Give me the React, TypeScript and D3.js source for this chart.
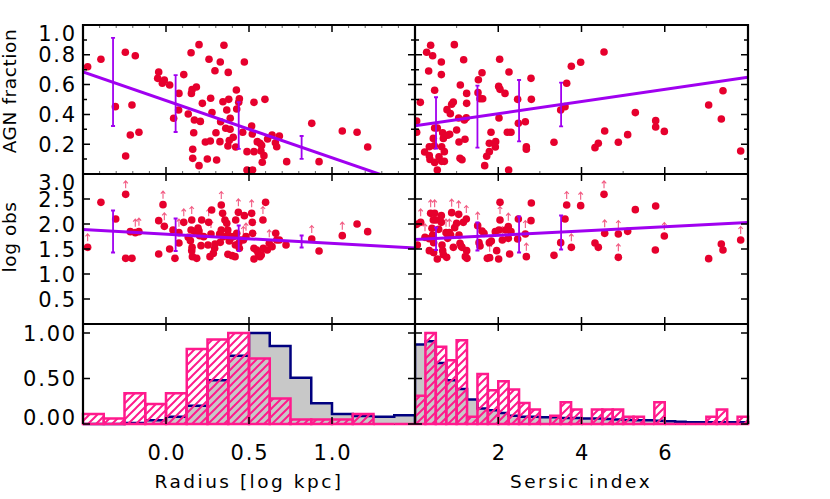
import React from "react";
import * as d3 from "d3";

// ---------- DATA ----------
// Top-left: radius (log kpc) vs AGN fraction
const radFracX = [-0.472,-0.392,-0.305,-0.245,-0.185,-0.243,-0.205,-0.215,-0.163,-0.044,-0.05,-0.01,-0.022,0.022,0.046,0.078,0.076,0.107,0.151,0.199,0.153,0.157,0.183,0.134,0.171,0.167,0.207,0.219,0.161,0.161,0.199,0.237,0.249,0.269,0.267,0.277,0.295,0.259,0.327,0.349,0.375,0.472,0.343,0.378,0.366,0.387,0.36,0.386,0.373,0.381,0.405,0.426,0.438,0.42,0.424,0.442,0.325,0.301,0.305,0.329,0.462,0.488,0.488,0.522,0.53,0.516,0.52,0.53,0.55,0.566,0.572,0.58,0.576,0.59,0.596,0.612,0.639,0.659,0.667,0.683,0.727,0.878,0.922,1.062,1.151,1.215];
const radFracY = [0.72,0.77,0.452,0.817,0.794,0.121,0.463,0.262,0.28,0.685,0.642,0.631,0.609,0.597,0.374,0.541,0.43,0.667,0.814,0.868,0.541,0.566,0.584,0.403,0.362,0.277,0.353,0.474,0.166,0.105,0.056,0.215,0.101,0.508,0.221,0.412,0.693,0.77,0.752,0.864,0.682,0.752,0.485,0.501,0.43,0.374,0.307,0.3,0.188,0.224,0.246,0.436,0.481,0.181,0.564,0.505,0.217,0.277,0.094,0.351,0.28,0.15,0.027,0.027,0.481,0.322,0.268,0.15,0.217,0.206,0.154,0.079,0.192,0.123,0.501,0.235,0.262,0.21,0.183,0.255,0.083,0.34,0.083,0.289,0.28,0.181];
const radFracBinX = [-0.319, 0.058, 0.438, 0.817];
const radFracBinLo = [0.322, 0.282, 0.168, 0.101];
const radFracBinHi = [0.913, 0.664, 0.483, 0.255];
const radFracFit = [0.685, -0.384]; // intercept at x=-0.5, slope

// Top-right: Sersic index vs AGN fraction
const serFracX = [0.128,0.04,0.04,0.28,0.376,0.424,0.328,0.633,0.633,0.472,0.472,0.536,0.232,0.344,0.36,0.472,0.536,0.577,0.641,0.705,0.641,0.705,0.44,0.464,0.344,0.665,0.681,0.769,0.849,0.785,0.833,0.881,0.921,0.945,1.0,1.057,1.049,1.081,1.129,1.089,1.169,1.241,1.241,1.201,1.233,1.185,1.522,1.61,1.514,1.562,1.626,1.826,1.786,1.786,1.722,1.674,1.938,1.93,2.034,2.01,2.042,2.162,2.018,2.258,2.25,2.218,2.306,2.466,2.483,2.651,2.675,2.675,2.787,2.795,3.339,3.5,3.604,3.644,3.756,3.98,4.541,4.324,4.404,4.557,4.885,5.109,5.293,5.782,5.782,5.99,7.055,7.399,7.359,7.824];
const serFracY = [0.481,0.356,0.28,0.817,0.864,0.794,0.691,0.752,0.667,0.562,0.309,0.309,0.148,0.123,0.098,0.078,0.027,0.116,0.085,0.085,0.183,0.15,0.239,0.19,0.183,0.277,0.239,0.432,0.405,0.26,0.266,0.468,0.483,0.868,0.295,0.215,0.376,0.105,0.096,0.597,0.767,0.541,0.474,0.233,0.378,0.362,0.633,0.68,0.546,0.505,0.505,0.28,0.206,0.15,0.119,0.056,0.217,0.181,0.77,0.588,0.568,0.541,0.376,0.685,0.027,0.28,0.28,0.501,0.34,0.351,0.183,0.166,0.642,0.501,0.213,0.43,0.452,0.609,0.723,0.75,0.819,0.177,0.206,0.289,0.213,0.264,0.412,0.358,0.315,0.286,0.463,0.559,0.369,0.154];
const serFracBinX = [0.505, 1.5, 2.5, 3.51];
const serFracBinLo = [0.17, 0.177, 0.219, 0.32];
const serFracBinHi = [0.515, 0.593, 0.631, 0.613];
const serFracFit = [0.324, 0.0406]; // intercept at n=0, slope

// Middle-left: radius vs log obs (1 = lower limit arrow)
const radObsX = [-0.472,-0.392,-0.303,-0.243,-0.243,-0.205,-0.215,-0.185,-0.163,-0.044,-0.044,-0.018,-0.01,0.022,0.042,0.054,0.078,0.078,0.107,0.155,0.151,0.134,0.147,0.157,0.159,0.185,0.155,0.171,0.193,0.199,0.203,0.211,0.215,0.227,0.257,0.253,0.265,0.275,0.285,0.293,0.295,0.271,0.323,0.327,0.333,0.341,0.333,0.345,0.355,0.366,0.372,0.375,0.381,0.373,0.386,0.398,0.416,0.42,0.418,0.405,0.426,0.436,0.438,0.448,0.442,0.466,0.472,0.482,0.516,0.52,0.522,0.53,0.53,0.546,0.556,0.566,0.574,0.584,0.586,0.6,0.61,0.639,0.622,0.661,0.667,0.683,0.723,0.878,0.922,1.062,1.151,1.215];
const radObsY = [1.533,2.433,2.1,2.593,1.313,1.313,1.847,1.827,1.847,2.067,1.4,2.387,1.953,1.5,1.88,1.313,1.827,1.62,2.033,2.08,1.88,1.733,1.667,1.533,1.347,1.313,1.467,1.853,1.92,1.86,1.767,1.567,2.08,1.747,2.033,1.58,1.347,2.28,1.413,1.513,1.6,1.8,1.8,1.633,2.38,2.213,1.88,1.747,2.08,2.013,1.88,1.78,1.66,1.393,1.707,1.367,1.347,2.08,1.58,1.747,1.813,2.233,1.613,1.68,1.513,1.68,2.167,1.747,2.213,2.033,1.813,1.3,1.513,1.48,1.413,1.347,1.38,2.08,1.513,2.433,1.48,1.547,1.613,1.813,1.68,1.68,1.58,1.7,1.46,1.767,2.0,1.847];
const radObsLim = [1,0,0,1,0,0,0,1,1,0,0,1,1,0,0,0,1,0,1,1,0,0,0,0,0,0,0,0,0,0,0,0,0,0,1,0,0,0,0,0,0,1,0,0,1,0,0,0,0,0,0,0,0,0,0,0,0,0,0,0,0,1,0,0,0,1,0,1,1,0,0,0,0,0,0,0,0,1,0,0,0,0,1,0,0,0,0,1,0,1,0,0];
const radObsBinX = [-0.319, 0.058, 0.438, 0.817];
const radObsBinLo = [1.43, 1.46, 1.46, 1.53];
const radObsBinHi = [2.27, 2.11, 1.97, 1.77];
const radObsFit = [1.89, -0.185];

// Middle-right: Sersic index vs log obs
const serObsX = [0.04,0.136,0.056,0.24,0.344,0.376,0.472,0.44,0.505,0.408,0.424,0.448,0.344,0.448,0.536,0.569,0.633,0.633,0.649,0.665,0.681,0.761,0.745,0.785,0.825,0.881,0.857,0.953,1.0,1.049,1.057,1.081,1.105,1.129,1.161,1.233,1.241,1.209,1.249,0.921,1.506,1.538,1.562,1.61,1.658,1.737,1.794,1.786,1.834,1.93,1.962,2.01,2.018,2.042,2.042,2.098,2.178,2.242,2.242,2.306,2.274,2.466,2.483,2.651,2.675,2.787,2.795,3.339,3.5,3.604,3.644,3.756,3.98,4.324,4.404,4.541,4.557,4.885,4.885,5.109,5.293,5.782,5.774,5.99,7.055,7.359,7.399,7.824];
const serObsY = [1.993,2.033,1.58,1.733,1.707,2.213,2.213,2.08,2.08,1.913,1.78,1.627,1.467,1.427,1.3,1.893,2.167,2.033,1.58,1.467,1.387,1.333,1.827,1.713,1.827,2.227,1.78,1.927,2.013,2.193,1.78,1.613,1.56,1.533,2.033,2.1,1.467,1.347,1.313,1.533,1.967,1.627,1.56,1.86,1.813,1.313,1.327,1.627,1.66,1.847,1.467,1.3,1.88,2.08,2.433,1.68,1.88,1.947,1.713,1.847,1.4,1.7,2.1,1.8,1.347,2.067,2.42,1.373,1.627,2.1,2.38,1.533,2.367,1.62,1.533,2.593,1.813,1.8,1.333,1.853,2.287,2.36,1.48,1.76,1.307,1.6,1.48,1.68];
const serObsLim = [0,1,0,1,0,1,1,0,0,1,0,0,0,0,0,0,0,0,0,0,0,0,1,0,1,1,0,0,0,1,0,0,0,0,0,1,0,0,0,0,1,0,0,0,0,0,1,0,0,0,0,0,0,1,0,1,0,1,0,0,0,0,0,1,1,0,0,0,0,0,1,1,1,0,0,1,1,1,1,0,0,0,0,1,0,0,0,1];
const serObsBinX = [0.505, 1.5, 2.5, 3.51];
const serObsBinLo = [1.48, 1.47, 1.43, 1.49];
const serObsBinHi = [1.93, 2.03, 2.15, 2.17];
const serObsFit = [1.69, 0.0425];

// Bottom: normalised histograms
const radBinStart = -0.5, radBinWidth = 0.125;
const radHistAll = [0.0,0.0,0.01,0.04,0.08,0.2,0.48,0.75,1.0,0.857,0.51,0.227,0.11,0.088,0.08,0.095];
const radHistAgn = [0.11,0.06,0.337,0.22,0.337,0.824,0.93,1.0,0.72,0.28,0.05,0.05,0.05,0.11,0.0,0.0];
const serBinStart = 0, serBinWidth = 0.25;
const serHistAll = [0.875,0.91,0.67,0.48,0.385,0.27,0.17,0.15,0.12,0.09,0.08,0.08,0.075,0.075,0.065,0.065,0.06,0.06,0.055,0.05,0.045,0.04,0.04,0.035,0.03,0.025,0.02,0.02,0.02,0.02,0.02,0.02];
const serHistAgn = [0.31,1.0,0.85,0.7,0.92,0.08,0.55,0.37,0.47,0.38,0.23,0.16,0.0,0.09,0.24,0.16,0.0,0.16,0.16,0.16,0.08,0.08,0.0,0.24,0.0,0.0,0.0,0.0,0.08,0.16,0.0,0.08];

const fracTicks = [0.2, 0.4, 0.6, 0.8, 1.0];
const fracTickLabels = ["0.2", "0.4", "0.6", "0.8", "1.0"];
const obsTicks = [0.5, 1.0, 1.5, 2.0, 2.5, 3.0];
const obsTickLabels = ["0.5", "1.0", "1.5", "2.0", "2.5", "3.0"];
const histTicks = [0, 0.5, 1.0];
const histTickLabels = ["0.00", "0.50", "1.00"];
const radTicks = [0.0, 0.5, 1.0];
const radTickLabels = ["0.0", "0.5", "1.0"];
const serTicks = [2, 4, 6];
const serTickLabels = ["2", "4", "6"];

// ---------- STYLE ----------
const RED = "#E6002D";
const PURPLE = "#A000F0";
const PINK = "#FF1A8C";
const NAVY = "#00007F";
const GRAY = "#C8C8C8";
const ARROW = "#F25A82";
const FONT = "DejaVu Sans";

const L = 83, M = 415, R = 748;
const T1 = 25, T2 = 174, T3 = 324, B = 424;

export default function App() {
  const xRad = d3.scaleLinear().domain([-0.5, 1.5]).range([L, M]);
  const xSer = d3.scaleLinear().domain([0, 8]).range([M, R]);
  const yFrac = d3.scaleLinear().domain([0, 1]).range([T2, T1]);
  const yObs = d3.scaleLinear().domain([0, 3]).range([T3, T2]);
  const yHist = d3.scaleLinear().domain([0, 1.1]).range([B, T3]);

  const line = d3.line<[number, number]>().x(d => d[0]).y(d => d[1]);

  const scatter = (xs: number[], ys: number[], xS: any, yS: any, lim?: number[]) => (
    <g>
      {lim && xs.map((x, i) => lim[i] ? (
        <g key={"a" + i} stroke={ARROW} strokeWidth={1.1} fill="none">
          <path d={`M${xS(x)},${yS(ys[i]) - 6}V${yS(ys[i]) - 13.5}M${xS(x) - 2.2},${yS(ys[i]) - 11}L${xS(x)},${yS(ys[i]) - 13.5}L${xS(x) + 2.2},${yS(ys[i]) - 11}`} />
        </g>) : null)}
      {xs.map((x, i) => <circle key={i} cx={xS(x)} cy={yS(ys[i])} r={3.8} fill={RED} />)}
    </g>
  );

  const fitLine = (fit: number[], x0: number, x1: number, xS: any, yS: any) => (
    <path d={line([[xS(x0), yS(fit[0])], [xS(x1), yS(fit[0] + fit[1] * (x1 - x0))]]) || ""} stroke={PURPLE} strokeWidth={3} fill="none" />
  );

  const errBars = (bx: number[], lo: number[], hi: number[], xS: any, yS: any) => (
    <g stroke={PURPLE} strokeWidth={1.8} fill="none">
      {bx.map((x, i) => (
        <path key={i} d={`M${xS(x)},${yS(lo[i])}V${yS(hi[i])}M${xS(x) - 2},${yS(lo[i])}h4M${xS(x) - 2},${yS(hi[i])}h4`} />
      ))}
    </g>
  );

  const yTicks = (ticks: number[], minor: number[], yS: any, x0: number, x1: number) => (
    <g stroke="#000" strokeWidth={1.5}>
      {ticks.map((t, i) => <path key={"M" + i} d={`M${x0},${yS(t)}h7M${x1},${yS(t)}h-7`} />)}
      {minor.map((t, i) => <path key={"m" + i} d={`M${x0},${yS(t)}h4M${x1},${yS(t)}h-4`} />)}
    </g>
  );
  const xTicks = (ticks: number[], minor: number[], xS: any, y0: number, y1: number) => (
    <g stroke="#000" strokeWidth={1.5}>
      {ticks.map((t, i) => <path key={"M" + i} d={`M${xS(t)},${y0}v7M${xS(t)},${y1}v-7`} />)}
      {minor.map((t, i) => <path key={"m" + i} d={`M${xS(t)},${y0}v3M${xS(t)},${y1}v-3`} strokeWidth={1} stroke="#666" />)}
    </g>
  );

  const stepPath = (vals: number[], start: number, w: number, xS: any, yS: any) => {
    let d = `M${xS(start)},${yS(0)}`;
    vals.forEach((v, i) => {
      d += `V${yS(v)}H${xS(start + (i + 1) * w)}`;
    });
    d += `V${yS(0)}`;
    return d;
  };

  const histPanel = (all: number[], agn: number[], start: number, w: number, xS: any, clip: string) => (
    <g clipPath={`url(#${clip})`}>
      <path d={stepPath(all, start, w, xS, yHist) + "Z"} fill={GRAY} stroke="none" />
      <path d={stepPath(all, start, w, xS, yHist)} fill="none" stroke={NAVY} strokeWidth={2.5} />
      {agn.map((v, i) => {
        const xa = xS(start + i * w), xb = xS(start + (i + 1) * w);
        return <path key={i} d={`M${xa},${yHist(0)}V${yHist(v)}H${xb}V${yHist(0)}Z`} fill="url(#hatch)" stroke={PINK} strokeWidth={2.5} />;
      })}
    </g>
  );

  const minorFrac = d3.range(0.1, 1.0, 0.2);
  const minorRad = d3.range(-0.4, 1.5, 0.1).filter(v => Math.abs((v * 2) - Math.round(v * 2)) > 0.01);
  const minorSer = [1, 3, 5, 7];
  const majorRad = [-0.5, 0, 0.5, 1.0, 1.5];
  const majorSer = [0, 2, 4, 6, 8];

  const tickFont = { fontFamily: FONT, fontSize: 21, letterSpacing: 1.8 } as const;
  const titleFont = { fontFamily: FONT, fontSize: 18.5, letterSpacing: 2.5 } as const;
  const yTitleFont = { fontFamily: FONT, fontSize: 18.5, letterSpacing: 0.6 } as const;

  return (
    <svg width={830} height={499} style={{ position: "absolute", left: 0, top: 0, background: "#fff" }}>
      <defs>
        <pattern id="hatch" patternUnits="userSpaceOnUse" width={8} height={8}>
          <path d="M-2,2l4,-4M0,8l8,-8M6,10l4,-4" stroke={PINK} strokeWidth={2} />
        </pattern>
        <clipPath id="c1"><rect x={L} y={T1} width={M - L} height={T2 - T1} /></clipPath>
        <clipPath id="c2"><rect x={M} y={T1} width={R - M} height={T2 - T1} /></clipPath>
        <clipPath id="c3"><rect x={L} y={T2} width={M - L} height={T3 - T2} /></clipPath>
        <clipPath id="c4"><rect x={M} y={T2} width={R - M} height={T3 - T2} /></clipPath>
        <clipPath id="c5"><rect x={L - 2} y={T3} width={M - L + 2} height={B - T3 + 2} /></clipPath>
        <clipPath id="c6"><rect x={M} y={T3} width={R - M + 2} height={B - T3 + 2} /></clipPath>
      </defs>

      {/* Top panels */}
      <g clipPath="url(#c1)">
        {scatter(radFracX, radFracY, xRad, yFrac)}
        {fitLine(radFracFit, -0.5, 1.5, xRad, yFrac)}
        {errBars(radFracBinX, radFracBinLo, radFracBinHi, xRad, yFrac)}
      </g>
      <g clipPath="url(#c2)">
        {scatter(serFracX, serFracY, xSer, yFrac)}
        {fitLine(serFracFit, 0, 8, xSer, yFrac)}
        {errBars(serFracBinX, serFracBinLo, serFracBinHi, xSer, yFrac)}
      </g>
      {/* Middle panels */}
      <g clipPath="url(#c3)">
        {scatter(radObsX, radObsY, xRad, yObs, radObsLim)}
        {fitLine(radObsFit, -0.5, 1.5, xRad, yObs)}
        {errBars(radObsBinX, radObsBinLo, radObsBinHi, xRad, yObs)}
      </g>
      <g clipPath="url(#c4)">
        {scatter(serObsX, serObsY, xSer, yObs, serObsLim)}
        {fitLine(serObsFit, 0, 8, xSer, yObs)}
        {errBars(serObsBinX, serObsBinLo, serObsBinHi, xSer, yObs)}
      </g>

      {/* Bottom baseline beneath histograms */}
      <path d={`M${L},${B}H${R}`} stroke="#000" strokeWidth={2} />
      {histPanel(radHistAll, radHistAgn, radBinStart, radBinWidth, xRad, "c5")}
      {histPanel(serHistAll, serHistAgn, serBinStart, serBinWidth, xSer, "c6")}

      {/* Ticks */}
      {yTicks(fracTicks, minorFrac, yFrac, L, M)}
      {yTicks(fracTicks, minorFrac, yFrac, M, R)}
      {yTicks(obsTicks, [], yObs, L, M)}
      {yTicks(obsTicks, [], yObs, M, R)}
      {yTicks(histTicks, [], yHist, L, M)}
      {yTicks(histTicks, [], yHist, M, R)}
      {xTicks(majorRad, minorRad, xRad, T1, T2)}
      {xTicks(majorSer, minorSer, xSer, T1, T2)}
      {xTicks(majorRad, [], xRad, T2, T3)}
      {xTicks(majorSer, [], xSer, T2, T3)}
      {xTicks(majorRad, [], xRad, T3, B)}
      {xTicks(majorSer, [], xSer, T3, B)}

      {/* Frames */}
      <g stroke="#000" strokeWidth={2.2} fill="none">
        <path d={`M${L},${B}V${T1}H${R}V${B}`} />
        <path d={`M${M},${T1}V${B}`} />
        <path d={`M${L},${T2}H${R}M${L},${T3}H${R}`} />
      </g>

      {/* Tick labels */}
      <g {...tickFont} textAnchor="end" fill="#000">
        {fracTicks.map((t, i) => (
          <text key={"f" + i} x={77} y={yFrac(t) + (i === fracTicks.length - 1 ? 8 : 0)} dy="0.36em">{fracTickLabels[i]}</text>
        ))}
        {obsTicks.map((t, i) => (
          <text key={"o" + i} x={77} y={yObs(t) + (i === obsTicks.length - 1 ? 8 : 0)} dy="0.36em">{obsTickLabels[i]}</text>
        ))}
        {histTicks.map((t, i) => (
          <text key={"h" + i} x={77} y={yHist(t) + (i === 0 ? -7 : 0)} dy="0.36em">{histTickLabels[i]}</text>
        ))}
      </g>
      <g {...tickFont} textAnchor="middle" fill="#000">
        {radTicks.map((t, i) => <text key={"r" + i} x={xRad(t) + 1} y={460}>{radTickLabels[i]}</text>)}
        {serTicks.map((t, i) => <text key={"s" + i} x={xSer(t) + 1} y={460}>{serTickLabels[i]}</text>)}
      </g>

      {/* Axis titles */}
      <g {...titleFont} fill="#000" textAnchor="middle">
        <text x={249} y={488}>Radius [log kpc]</text>
        <text x={581} y={488}>Sersic index</text>
      </g>
      <g {...yTitleFont} fill="#000" textAnchor="middle">
        <text transform="translate(16,91) rotate(-90)">AGN fraction</text>
        <text transform="translate(16,237) rotate(-90)">log obs</text>
      </g>
    </svg>
  );
}
